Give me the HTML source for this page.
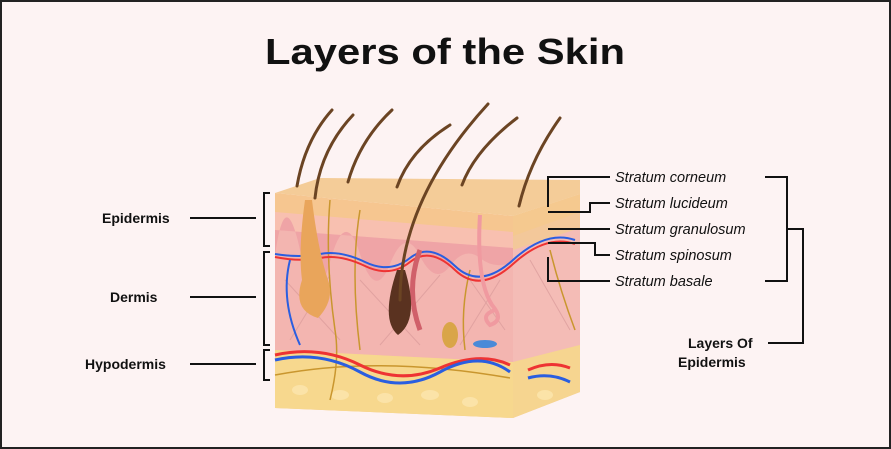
<!DOCTYPE html>
<html><head><meta charset="utf-8"><style>
html,body{margin:0;padding:0;background:#fdf3f3}
svg{display:block}
</style></head><body>
<svg width="891" height="449" viewBox="0 0 891 449" xmlns="http://www.w3.org/2000/svg" font-family="Liberation Sans, sans-serif">
<rect x="1" y="1" width="889" height="447" fill="#fdf3f3" stroke="#222" stroke-width="2"/>
<text x="445" y="64" text-anchor="middle" font-size="36" font-weight="bold" fill="#111" textLength="360" lengthAdjust="spacingAndGlyphs">Layers of the Skin</text>

<polygon points="513,216 580,194 580,392 513,418" fill="#f3c89a"/>
<polygon points="513,250 580,228 580,345 513,362" fill="#f4bcb6"/>
<polygon points="513,362 580,345 580,392 513,418" fill="#f6d590"/>
<polygon points="513,216 580,194 580,212 513,236" fill="#f5c98f"/>
<polygon points="275,193 320,178 580,180 580,194 513,216" fill="#f4cc98"/>
<polygon points="275,193 513,216 513,418 275,408" fill="#f6c690"/>
<polygon points="275,212 513,232 513,250 275,232" fill="#f8c0b0"/>
<polygon points="275,230 513,248 513,362 275,350" fill="#f3b5b0"/>
<path d="M275,230 L513,248 L513,262 Q495,270 480,258 T450,266 T420,256 T390,264 T360,254 T330,262 T300,250 T275,256Z" fill="#efa4a6"/>
<polygon points="275,350 513,362 513,418 275,408" fill="#f7d88e"/>
<g fill="#fbe3a8">
<ellipse cx="300" cy="390" rx="8" ry="5"/><ellipse cx="340" cy="395" rx="9" ry="5"/><ellipse cx="385" cy="398" rx="8" ry="5"/>
<ellipse cx="430" cy="395" rx="9" ry="5"/><ellipse cx="470" cy="402" rx="8" ry="5"/><ellipse cx="545" cy="395" rx="8" ry="5"/>
</g>
<g stroke="#d99a9a" stroke-width="1" fill="none" opacity="0.7">
<path d="M285,280 L340,340 M330,275 L290,340 M360,280 L420,345 M440,275 L380,345 M470,280 L505,330 M500,280 L460,345 M530,260 L570,330"/>
</g>
<g stroke="#c9962e" stroke-width="1.5" fill="none">
<path d="M330,200 Q325,260 335,330 Q340,360 330,400"/>
<path d="M360,210 Q350,270 360,350"/>
<path d="M470,270 Q460,310 465,350"/>
<path d="M550,250 Q560,290 575,330"/>
<path d="M275,375 Q380,355 510,378"/>
</g>
<path d="M275,355 Q320,345 360,365 T440,368 T510,365" stroke="#e33" stroke-width="3" fill="none"/>
<path d="M275,360 Q320,350 360,372 T440,372 T510,372" stroke="#2a5ee0" stroke-width="3" fill="none"/>
<path d="M275,257 Q300,262 320,258 T365,266 T410,262 T455,270 T513,264 T575,244" stroke="#e33" stroke-width="2" fill="none"/>
<path d="M275,254 Q300,258 320,254 T365,262 T410,258 T455,266 T513,260 T575,240" stroke="#2a5ee0" stroke-width="2" fill="none"/>
<path d="M290,260 Q280,300 300,345" stroke="#2a5ee0" stroke-width="2" fill="none"/>
<path d="M528,370 Q550,360 570,368" stroke="#e33" stroke-width="3" fill="none"/>
<path d="M528,378 Q550,372 570,382" stroke="#2a5ee0" stroke-width="3" fill="none"/>
<path d="M305,200 Q298,250 302,280 Q292,310 318,318 Q335,300 328,280 Q318,250 312,200Z" fill="#e9a55b"/>
<path d="M420,250 Q405,290 420,330" stroke="#d0606a" stroke-width="5" fill="none"/>
<path d="M397,270 Q380,320 398,335 Q420,320 405,270Z" fill="#5a3220"/>
<path d="M480,215 Q476,280 492,305 Q505,320 490,325 Q480,315 495,310" stroke="#f09aa0" stroke-width="4" fill="none"/>
<ellipse cx="450" cy="335" rx="8" ry="13" fill="#d9a548"/>
<ellipse cx="485" cy="344" rx="12" ry="4" fill="#4a8ad8"/>
<g stroke="#6b4423" stroke-width="3" fill="none" stroke-linecap="round">
<path d="M297,186 Q305,140 332,110"/>
<path d="M315,198 Q320,150 353,115"/>
<path d="M348,182 Q360,140 392,110"/>
<path d="M397,187 Q410,150 450,125"/>
<path d="M400,300 Q400,200 488,104"/>
<path d="M462,185 Q475,150 517,118"/>
<path d="M519,206 Q530,160 560,118"/>
</g>

<g font-size="14" font-weight="bold" fill="#111">
<text x="102" y="223">Epidermis</text>
<text x="110" y="302">Dermis</text>
<text x="85" y="369">Hypodermis</text>
</g>
<g stroke="#111" stroke-width="2" fill="none">
<line x1="190" y1="218" x2="256" y2="218"/>
<line x1="190" y1="297" x2="256" y2="297"/>
<line x1="190" y1="364" x2="256" y2="364"/>
<path d="M270,193 H264 V246 H270"/>
<path d="M270,252 H264 V345 H270"/>
<path d="M270,350 H264 V380 H270"/>
<path d="M610,177 H548 V207"/>
<path d="M548,212 H590 V203 H610"/>
<path d="M548,229 H610"/>
<path d="M548,243 H595 V255 H610"/>
<path d="M548,257 V281 H610"/>
<path d="M765,177 H787 V281 H765"/>
<path d="M787,229 H803 V343 H768"/>
</g>
<g font-size="14.5" font-style="italic" fill="#111">
<text x="615" y="182">Stratum corneum</text>
<text x="615" y="208">Stratum lucideum</text>
<text x="615" y="234">Stratum granulosum</text>
<text x="615" y="260">Stratum spinosum</text>
<text x="615" y="286">Stratum basale</text>
</g>
<g font-size="14" font-weight="bold" fill="#111">
<text x="688" y="348">Layers Of</text>
<text x="678" y="367">Epidermis</text>
</g>
</svg>
</body></html>
